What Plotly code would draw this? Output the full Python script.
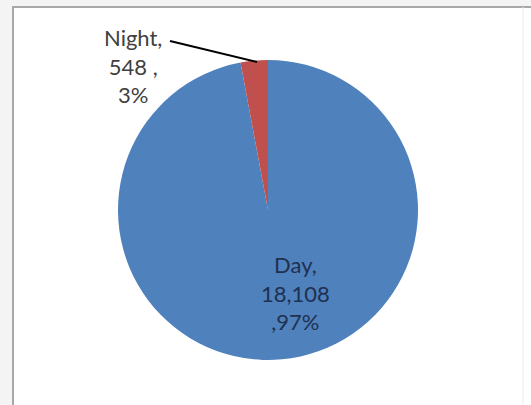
import plotly.graph_objects as go

labels = ["Day", "Night"]
values = [18108, 548]
colors = ["#4F81BD", "#C0504D"]

W, H = 531, 405
total = sum(values)
pcts = [round(100 * v / total) for v in values]

fig = go.Figure(go.Pie(
    labels=labels, values=values, sort=False, direction="clockwise",
    marker=dict(colors=colors, line=dict(width=0)),
    textinfo="none", hoverinfo="label+value+percent", showlegend=False,
    domain=dict(x=[116 / W, 420 / W], y=[1 - 360 / H, 1 - 60 / H]),
))

fam = "Lato, Open Sans, sans-serif"

# Day label (inside)
fig.add_annotation(
    x=295 / W, y=1 - 293 / H, xref="paper", yref="paper", showarrow=False,
    xanchor="center", yanchor="middle",
    text=f"{labels[0]},<br>{values[0]:,}<br>,{pcts[0]}%",
    font=dict(family=fam, size=22, color="#1F3050"),
    align="center",
)
# Night label (outside with leader line)
fig.add_annotation(
    x=133 / W, y=1 - 66 / H, xref="paper", yref="paper", showarrow=False,
    xanchor="center", yanchor="middle",
    text=f"{labels[1]},<br>{values[1]} ,<br>{pcts[1]}%",
    font=dict(family=fam, size=22, color="#404040"), align="center",
)

shapes = [
    dict(type="rect", xref="paper", yref="paper", x0=13 / W, x1=1.02, y0=-0.02, y1=1 - 7 / H,
         fillcolor="white", line=dict(color="#a8a8a8", width=2), layer="below"),
    dict(type="line", xref="paper", yref="paper", x0=523 / W, x1=523 / W, y0=0, y1=1 - 7 / H,
         line=dict(color="#ececec", width=1)),
    dict(type="line", xref="paper", yref="paper", x0=170 / W, y0=1 - 41 / H,
         x1=257 / W, y1=1 - 62 / H, line=dict(color="black", width=2)),
]

fig.update_layout(
    width=W, height=H, margin=dict(l=0, r=0, t=0, b=0),
    paper_bgcolor="#f4f4f4", plot_bgcolor="white", shapes=shapes,
)
fig.write_html("out.html")
